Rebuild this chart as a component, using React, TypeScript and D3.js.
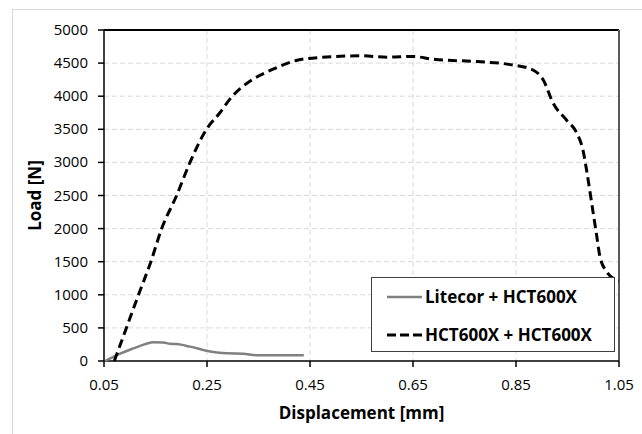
import React from 'react';
import * as d3 from 'd3';

// load-displacement data
const hctX = [0.07, 0.0935, 0.117, 0.141, 0.162, 0.191, 0.217, 0.249, 0.275, 0.298, 0.337, 0.376, 0.427, 0.473, 0.55, 0.6, 0.65, 0.689, 0.774, 0.844, 0.883, 0.903, 0.922, 0.948, 0.968, 0.98, 0.987, 0.994, 1.0, 1.006, 1.013, 1.026, 1.045, 1.05];
const hctY = [0, 500, 1000, 1500, 2000, 2500, 3000, 3500, 3750, 3990, 4245, 4400, 4547, 4587, 4610, 4590, 4600, 4558, 4523, 4471, 4396, 4245, 3897, 3640, 3444, 3187, 2885, 2538, 2230, 1930, 1575, 1349, 1224, 1210];

const litX = [0.052, 0.075, 0.107, 0.13, 0.146, 0.165, 0.178, 0.191, 0.217, 0.256, 0.288, 0.32, 0.346, 0.398, 0.438];
const litY = [0, 90, 190, 255, 285, 280, 260, 255, 217, 145, 116, 110, 88, 86, 86];

const xTicks = [0.05, 0.25, 0.45, 0.65, 0.85, 1.05];
const yTicks = [0, 500, 1000, 1500, 2000, 2500, 3000, 3500, 4000, 4500, 5000];

const legendNames = ['Litecor + HCT600X', 'HCT600X + HCT600X'];

const W = 642;
const H = 434;
const left = 104, right = 619, top = 30, bottom = 361;

export default function App() {
  const x = d3.scaleLinear().domain([0.05, 1.05]).range([left, right]);
  const y = d3.scaleLinear().domain([0, 5000]).range([bottom, top]);

  const line = d3.line<[number, number]>()
    .x(d => x(d[0]))
    .y(d => y(d[1]))
    .curve(d3.curveMonotoneX);

  const hctPath = line(hctX.map((v, i) => [v, hctY[i]]) as [number, number][]) || '';
  const litPath = line(litX.map((v, i) => [v, litY[i]]) as [number, number][]) || '';

  const font = '"Open Sans", "Noto Sans", sans-serif';

  return (
    <svg width={W} height={H} style={{ position: 'absolute', left: 0, top: 0, background: '#fff' }}
      fontFamily={font}>
      <rect x={12.5} y={9.5} width={660} height={460} fill="#fff" stroke="#d9d9d9" />

      {/* grid */}
      {yTicks.filter(t => t > 0 && t < 5000).map(t => (
        <line key={'gy' + t} x1={left} x2={right} y1={y(t)} y2={y(t)}
          stroke="#d9d9d9" strokeDasharray="5,3" />
      ))}
      {xTicks.filter(t => t > 0.05 && t < 1.05).map(t => (
        <line key={'gx' + t} x1={x(t)} x2={x(t)} y1={top} y2={bottom}
          stroke="#d9d9d9" strokeDasharray="5,3" />
      ))}

      {/* plot frame */}
      <line x1={left} x2={right} y1={top} y2={top} stroke="#000" strokeWidth={2} />
      <line x1={right} x2={right} y1={top} y2={bottom} stroke="#595959" strokeWidth={2} />
      <line x1={left} x2={left} y1={top} y2={bottom} stroke="#000" strokeWidth={1.5} />
      <line x1={left} x2={right} y1={bottom} y2={bottom} stroke="#000" strokeWidth={1.5} />

      {/* ticks + labels */}
      {yTicks.map(t => (
        <g key={'ty' + t}>
          <line x1={left - 6} x2={left} y1={y(t)} y2={y(t)} stroke="#000" strokeWidth={1.5} />
          <text x={88} y={y(t) + 5} textAnchor="end" fontSize={15} fill="#000">{t}</text>
        </g>
      ))}
      {xTicks.map(t => (
        <g key={'tx' + t}>
          <line x1={x(t)} x2={x(t)} y1={bottom} y2={bottom + 6} stroke="#000" strokeWidth={1.5} />
          <text x={x(t)} y={390} textAnchor="middle" fontSize={15} fill="#000">{t.toFixed(2)}</text>
        </g>
      ))}

      {/* series */}
      <path d={litPath} fill="none" stroke="#808080" strokeWidth={2.5} />
      <path d={hctPath} fill="none" stroke="#000" strokeWidth={3} strokeDasharray="9,5" />

      {/* axis titles */}
      <text x={(left + right) / 2} y={419} textAnchor="middle" fontSize={17} fontWeight="bold">Displacement [mm]</text>
      <text transform={`translate(41,${(top + bottom) / 2}) rotate(-90)`} textAnchor="middle" fontSize={17} fontWeight="bold">Load [N]</text>

      {/* legend */}
      <rect x={371.5} y={277.5} width={243} height={74} fill="#fff" stroke="#404040" />
      <line x1={387} x2={422} y1={297} y2={297} stroke="#808080" strokeWidth={2.5} />
      <text x={425} y={303} fontSize={17} fontWeight="bold">{legendNames[0]}</text>
      <line x1={387} x2={422} y1={335} y2={335} stroke="#000" strokeWidth={3} strokeDasharray="9,4" />
      <text x={425} y={341} fontSize={17} fontWeight="bold">{legendNames[1]}</text>
    </svg>
  );
}
